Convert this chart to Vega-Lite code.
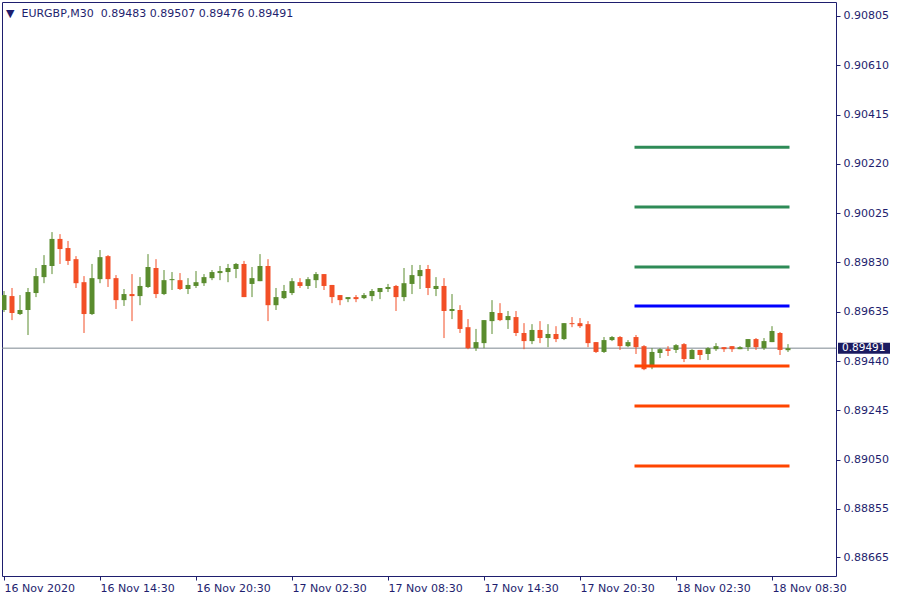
{
  "$schema": "https://vega.github.io/schema/vega-lite/v6.json",
  "width": 834,
  "height": 574,
  "autosize": "none",
  "padding": {"left": 2, "top": 2, "right": 64, "bottom": 24},
  "background": "white",
  "title": {
    "text": "▼\u00a0\u00a0EURGBP,M30\u00a0\u00a00.89483 0.89507 0.89476 0.89491",
    "anchor": "start",
    "frame": "group",
    "orient": "top",
    "baseline": "alphabetic",
    "offset": -15,
    "dx": 4,
    "dy": 11,
    "font": "DejaVu Sans",
    "fontSize": 11,
    "fontWeight": "normal",
    "color": "#1e1e6e"
  },
  "config": {
    "view": {"stroke": "#1e1e6e", "strokeWidth": 1},
    "axis": {
      "grid": false,
      "domain": false,
      "labelFont": "DejaVu Sans",
      "labelFontSize": 11,
      "labelColor": "#1e1e6e",
      "tickColor": "#1e1e6e",
      "tickSize": 4,
      "labelOverlap": false,
      "labelBound": false,
      "labelFlush": false
    }
  },
  "datasets": {
    "candles": [
      {"t": "2020-11-16T08:30", "open": 0.89642, "high": 0.89717, "low": 0.89634, "close": 0.89701},
      {"t": "2020-11-16T09:00", "open": 0.89697, "high": 0.89729, "low": 0.89602, "close": 0.89630},
      {"t": "2020-11-16T09:30", "open": 0.89626, "high": 0.89701, "low": 0.89622, "close": 0.89642},
      {"t": "2020-11-16T10:00", "open": 0.89642, "high": 0.89729, "low": 0.89543, "close": 0.89713},
      {"t": "2020-11-16T10:30", "open": 0.89709, "high": 0.89808, "low": 0.89693, "close": 0.89776},
      {"t": "2020-11-16T11:00", "open": 0.89772, "high": 0.89859, "low": 0.89748, "close": 0.89820},
      {"t": "2020-11-16T11:30", "open": 0.89816, "high": 0.89950, "low": 0.89784, "close": 0.89923},
      {"t": "2020-11-16T12:00", "open": 0.89923, "high": 0.89942, "low": 0.89824, "close": 0.89883},
      {"t": "2020-11-16T12:30", "open": 0.89887, "high": 0.89915, "low": 0.89820, "close": 0.89836},
      {"t": "2020-11-16T13:00", "open": 0.89843, "high": 0.89855, "low": 0.89729, "close": 0.89748},
      {"t": "2020-11-16T13:30", "open": 0.89752, "high": 0.89776, "low": 0.89551, "close": 0.89626},
      {"t": "2020-11-16T14:00", "open": 0.89626, "high": 0.89824, "low": 0.89622, "close": 0.89768},
      {"t": "2020-11-16T14:30", "open": 0.89764, "high": 0.89879, "low": 0.89748, "close": 0.89851},
      {"t": "2020-11-16T15:00", "open": 0.89855, "high": 0.89859, "low": 0.89733, "close": 0.89764},
      {"t": "2020-11-16T15:30", "open": 0.89768, "high": 0.89780, "low": 0.89646, "close": 0.89681},
      {"t": "2020-11-16T16:00", "open": 0.89681, "high": 0.89725, "low": 0.89658, "close": 0.89705},
      {"t": "2020-11-16T16:30", "open": 0.89705, "high": 0.89784, "low": 0.89598, "close": 0.89697},
      {"t": "2020-11-16T17:00", "open": 0.89697, "high": 0.89772, "low": 0.89661, "close": 0.89737},
      {"t": "2020-11-16T17:30", "open": 0.89733, "high": 0.89863, "low": 0.89729, "close": 0.89812},
      {"t": "2020-11-16T18:00", "open": 0.89808, "high": 0.89843, "low": 0.89689, "close": 0.89705},
      {"t": "2020-11-16T18:30", "open": 0.89705, "high": 0.89800, "low": 0.89701, "close": 0.89760},
      {"t": "2020-11-16T19:00", "open": 0.89760, "high": 0.89792, "low": 0.89721, "close": 0.89764},
      {"t": "2020-11-16T19:30", "open": 0.89760, "high": 0.89788, "low": 0.89721, "close": 0.89725},
      {"t": "2020-11-16T20:00", "open": 0.89725, "high": 0.89768, "low": 0.89705, "close": 0.89741},
      {"t": "2020-11-16T20:30", "open": 0.89737, "high": 0.89796, "low": 0.89729, "close": 0.89752},
      {"t": "2020-11-16T21:00", "open": 0.89748, "high": 0.89784, "low": 0.89737, "close": 0.89772},
      {"t": "2020-11-16T21:30", "open": 0.89768, "high": 0.89800, "low": 0.89760, "close": 0.89792},
      {"t": "2020-11-16T22:00", "open": 0.89788, "high": 0.89816, "low": 0.89760, "close": 0.89796},
      {"t": "2020-11-16T22:30", "open": 0.89792, "high": 0.89824, "low": 0.89752, "close": 0.89808},
      {"t": "2020-11-16T23:00", "open": 0.89804, "high": 0.89828, "low": 0.89768, "close": 0.89824},
      {"t": "2020-11-16T23:30", "open": 0.89824, "high": 0.89836, "low": 0.89693, "close": 0.89693},
      {"t": "2020-11-17T00:00", "open": 0.89745, "high": 0.89812, "low": 0.89693, "close": 0.89768},
      {"t": "2020-11-17T00:30", "open": 0.89756, "high": 0.89863, "low": 0.89756, "close": 0.89816},
      {"t": "2020-11-17T01:00", "open": 0.89816, "high": 0.89843, "low": 0.89598, "close": 0.89661},
      {"t": "2020-11-17T01:30", "open": 0.89661, "high": 0.89729, "low": 0.89642, "close": 0.89693},
      {"t": "2020-11-17T02:00", "open": 0.89689, "high": 0.89741, "low": 0.89685, "close": 0.89717},
      {"t": "2020-11-17T02:30", "open": 0.89709, "high": 0.89768, "low": 0.89701, "close": 0.89756},
      {"t": "2020-11-17T03:00", "open": 0.89752, "high": 0.89768, "low": 0.89729, "close": 0.89737},
      {"t": "2020-11-17T03:30", "open": 0.89737, "high": 0.89772, "low": 0.89725, "close": 0.89764},
      {"t": "2020-11-17T04:00", "open": 0.89760, "high": 0.89792, "low": 0.89729, "close": 0.89784},
      {"t": "2020-11-17T04:30", "open": 0.89784, "high": 0.89784, "low": 0.89721, "close": 0.89737},
      {"t": "2020-11-17T05:00", "open": 0.89741, "high": 0.89741, "low": 0.89669, "close": 0.89693},
      {"t": "2020-11-17T05:30", "open": 0.89701, "high": 0.89701, "low": 0.89661, "close": 0.89681},
      {"t": "2020-11-17T06:00", "open": 0.89685, "high": 0.89693, "low": 0.89673, "close": 0.89693},
      {"t": "2020-11-17T06:30", "open": 0.89693, "high": 0.89701, "low": 0.89673, "close": 0.89685},
      {"t": "2020-11-17T07:00", "open": 0.89689, "high": 0.89709, "low": 0.89685, "close": 0.89701},
      {"t": "2020-11-17T07:30", "open": 0.89697, "high": 0.89725, "low": 0.89677, "close": 0.89717},
      {"t": "2020-11-17T08:00", "open": 0.89713, "high": 0.89729, "low": 0.89685, "close": 0.89729},
      {"t": "2020-11-17T08:30", "open": 0.89725, "high": 0.89745, "low": 0.89713, "close": 0.89733},
      {"t": "2020-11-17T09:00", "open": 0.89737, "high": 0.89741, "low": 0.89638, "close": 0.89693},
      {"t": "2020-11-17T09:30", "open": 0.89693, "high": 0.89808, "low": 0.89677, "close": 0.89748},
      {"t": "2020-11-17T10:00", "open": 0.89745, "high": 0.89820, "low": 0.89705, "close": 0.89780},
      {"t": "2020-11-17T10:30", "open": 0.89776, "high": 0.89820, "low": 0.89725, "close": 0.89800},
      {"t": "2020-11-17T11:00", "open": 0.89804, "high": 0.89820, "low": 0.89701, "close": 0.89729},
      {"t": "2020-11-17T11:30", "open": 0.89725, "high": 0.89772, "low": 0.89697, "close": 0.89737},
      {"t": "2020-11-17T12:00", "open": 0.89737, "high": 0.89768, "low": 0.89531, "close": 0.89638},
      {"t": "2020-11-17T12:30", "open": 0.89638, "high": 0.89705, "low": 0.89606, "close": 0.89646},
      {"t": "2020-11-17T13:00", "open": 0.89642, "high": 0.89661, "low": 0.89551, "close": 0.89567},
      {"t": "2020-11-17T13:30", "open": 0.89574, "high": 0.89606, "low": 0.89487, "close": 0.89491},
      {"t": "2020-11-17T14:00", "open": 0.89491, "high": 0.89567, "low": 0.89480, "close": 0.89515},
      {"t": "2020-11-17T14:30", "open": 0.89511, "high": 0.89602, "low": 0.89491, "close": 0.89602},
      {"t": "2020-11-17T15:00", "open": 0.89598, "high": 0.89681, "low": 0.89547, "close": 0.89634},
      {"t": "2020-11-17T15:30", "open": 0.89630, "high": 0.89669, "low": 0.89598, "close": 0.89602},
      {"t": "2020-11-17T16:00", "open": 0.89602, "high": 0.89638, "low": 0.89567, "close": 0.89618},
      {"t": "2020-11-17T16:30", "open": 0.89614, "high": 0.89638, "low": 0.89539, "close": 0.89551},
      {"t": "2020-11-17T17:00", "open": 0.89551, "high": 0.89590, "low": 0.89487, "close": 0.89519},
      {"t": "2020-11-17T17:30", "open": 0.89519, "high": 0.89586, "low": 0.89507, "close": 0.89563},
      {"t": "2020-11-17T18:00", "open": 0.89563, "high": 0.89598, "low": 0.89511, "close": 0.89531},
      {"t": "2020-11-17T18:30", "open": 0.89531, "high": 0.89586, "low": 0.89495, "close": 0.89547},
      {"t": "2020-11-17T19:00", "open": 0.89547, "high": 0.89578, "low": 0.89515, "close": 0.89527},
      {"t": "2020-11-17T19:30", "open": 0.89527, "high": 0.89590, "low": 0.89523, "close": 0.89590},
      {"t": "2020-11-17T20:00", "open": 0.89590, "high": 0.89614, "low": 0.89574, "close": 0.89586},
      {"t": "2020-11-17T20:30", "open": 0.89590, "high": 0.89610, "low": 0.89571, "close": 0.89578},
      {"t": "2020-11-17T21:00", "open": 0.89586, "high": 0.89598, "low": 0.89495, "close": 0.89511},
      {"t": "2020-11-17T21:30", "open": 0.89515, "high": 0.89515, "low": 0.89472, "close": 0.89476},
      {"t": "2020-11-17T22:00", "open": 0.89476, "high": 0.89535, "low": 0.89472, "close": 0.89523},
      {"t": "2020-11-17T22:30", "open": 0.89523, "high": 0.89539, "low": 0.89519, "close": 0.89535},
      {"t": "2020-11-17T23:00", "open": 0.89535, "high": 0.89539, "low": 0.89484, "close": 0.89499},
      {"t": "2020-11-17T23:30", "open": 0.89499, "high": 0.89523, "low": 0.89495, "close": 0.89515},
      {"t": "2020-11-18T00:00", "open": 0.89535, "high": 0.89543, "low": 0.89468, "close": 0.89495},
      {"t": "2020-11-18T00:30", "open": 0.89499, "high": 0.89503, "low": 0.89404, "close": 0.89408},
      {"t": "2020-11-18T01:00", "open": 0.89416, "high": 0.89491, "low": 0.89408, "close": 0.89476},
      {"t": "2020-11-18T01:30", "open": 0.89472, "high": 0.89491, "low": 0.89452, "close": 0.89487},
      {"t": "2020-11-18T02:00", "open": 0.89487, "high": 0.89499, "low": 0.89460, "close": 0.89480},
      {"t": "2020-11-18T02:30", "open": 0.89484, "high": 0.89507, "low": 0.89472, "close": 0.89503},
      {"t": "2020-11-18T03:00", "open": 0.89507, "high": 0.89511, "low": 0.89436, "close": 0.89448},
      {"t": "2020-11-18T03:30", "open": 0.89448, "high": 0.89487, "low": 0.89448, "close": 0.89484},
      {"t": "2020-11-18T04:00", "open": 0.89484, "high": 0.89484, "low": 0.89444, "close": 0.89464},
      {"t": "2020-11-18T04:30", "open": 0.89468, "high": 0.89495, "low": 0.89444, "close": 0.89491},
      {"t": "2020-11-18T05:00", "open": 0.89487, "high": 0.89511, "low": 0.89480, "close": 0.89499},
      {"t": "2020-11-18T05:30", "open": 0.89495, "high": 0.89495, "low": 0.89476, "close": 0.89487},
      {"t": "2020-11-18T06:00", "open": 0.89499, "high": 0.89499, "low": 0.89476, "close": 0.89487},
      {"t": "2020-11-18T06:30", "open": 0.89487, "high": 0.89499, "low": 0.89487, "close": 0.89495},
      {"t": "2020-11-18T07:00", "open": 0.89495, "high": 0.89527, "low": 0.89480, "close": 0.89527},
      {"t": "2020-11-18T07:30", "open": 0.89527, "high": 0.89531, "low": 0.89484, "close": 0.89495},
      {"t": "2020-11-18T08:00", "open": 0.89491, "high": 0.89531, "low": 0.89484, "close": 0.89519},
      {"t": "2020-11-18T08:30", "open": 0.89515, "high": 0.89578, "low": 0.89515, "close": 0.89559},
      {"t": "2020-11-18T09:00", "open": 0.89551, "high": 0.89555, "low": 0.89464, "close": 0.89484},
      {"t": "2020-11-18T09:30", "open": 0.89483, "high": 0.89507, "low": 0.89476, "close": 0.89491}
    ],
    "levels": [
      {"level": "R3", "price": 0.90286, "start": "2020-11-18T00:00", "end": "2020-11-18T09:30"},
      {"level": "R2", "price": 0.90049, "start": "2020-11-18T00:00", "end": "2020-11-18T09:30"},
      {"level": "R1", "price": 0.89812, "start": "2020-11-18T00:00", "end": "2020-11-18T09:30"},
      {"level": "P", "price": 0.89658, "start": "2020-11-18T00:00", "end": "2020-11-18T09:30"},
      {"level": "S1", "price": 0.89420, "start": "2020-11-18T00:00", "end": "2020-11-18T09:30"},
      {"level": "S2", "price": 0.89262, "start": "2020-11-18T00:00", "end": "2020-11-18T09:30"},
      {"level": "S3", "price": 0.89025, "start": "2020-11-18T00:00", "end": "2020-11-18T09:30"}
    ],
    "last": [{"price": 0.89491}]
  },
  "layer": [
    {
      "data": {"name": "last"},
      "mark": {"type": "rule", "color": "#7d8791", "strokeWidth": 1},
      "encoding": {
        "y": {"field": "price", "type": "quantitative", "title": null,
              "scale": {"domain": [0.88590, 0.90860], "zero": false, "nice": false, "padding": 0}}
      }
    },
    {
      "data": {"name": "candles"},
      "mark": {"type": "rule", "strokeWidth": 1, "clip": true},
      "encoding": {
        "x": {"field": "t", "type": "temporal", "title": null,
              "scale": {"padding": 0, "domain": [
                {"year": 2020, "month": 11, "date": 16, "hours": 8, "minutes": 22, "seconds": 30},
                {"year": 2020, "month": 11, "date": 18, "hours": 12, "minutes": 30}
              ]},
              "axis": {
                "orient": "bottom",
                "values": [
                  {"year": 2020, "month": 11, "date": 16, "hours": 8, "minutes": 30},
                  {"year": 2020, "month": 11, "date": 16, "hours": 14, "minutes": 30},
                  {"year": 2020, "month": 11, "date": 16, "hours": 20, "minutes": 30},
                  {"year": 2020, "month": 11, "date": 17, "hours": 2, "minutes": 30},
                  {"year": 2020, "month": 11, "date": 17, "hours": 8, "minutes": 30},
                  {"year": 2020, "month": 11, "date": 17, "hours": 14, "minutes": 30},
                  {"year": 2020, "month": 11, "date": 17, "hours": 20, "minutes": 30},
                  {"year": 2020, "month": 11, "date": 18, "hours": 2, "minutes": 30},
                  {"year": 2020, "month": 11, "date": 18, "hours": 8, "minutes": 30}
                ],
                "labelExpr": "timeFormat(datum.value, '%d %H:%M') == '16 08:30' ? '16 Nov 2020' : timeFormat(datum.value, '%d %b %H:%M')",
                "labelAlign": "left",
                "labelBaseline": "top",
                "labelPadding": 2,
                "labelAngle": 0
              }},
        "y": {"field": "low", "type": "quantitative", "title": null,
              "scale": {"domain": [0.88590, 0.90860], "zero": false, "nice": false, "padding": 0},
              "axis": {
                "orient": "right",
                "values": [0.90805, 0.90610, 0.90415, 0.90220, 0.90025, 0.89830, 0.89635, 0.89440, 0.89245, 0.89050, 0.88855, 0.88665],
                "format": ".5f",
                "labelPadding": 3,
                "labelBaseline": "middle"
              }},
        "y2": {"field": "high"},
        "color": {"condition": {"test": "datum.open < datum.close", "value": "#5a8c2e"}, "value": "#f24f26"}
      }
    },
    {
      "data": {"name": "candles"},
      "mark": {"type": "bar", "width": 5, "clip": true},
      "encoding": {
        "x": {"field": "t", "type": "temporal", "title": null},
        "y": {"field": "open", "type": "quantitative", "title": null},
        "y2": {"field": "close"},
        "color": {"condition": {"test": "datum.open < datum.close", "value": "#5a8c2e"}, "value": "#f24f26"}
      }
    },
    {
      "data": {"name": "levels"},
      "mark": {"type": "rule", "strokeWidth": 3, "strokeCap": "square"},
      "encoding": {
        "x": {"field": "start", "type": "temporal", "title": null},
        "x2": {"field": "end"},
        "y": {"field": "price", "type": "quantitative", "title": null},
        "color": {"field": "level", "type": "nominal", "legend": null,
                  "scale": {"domain": ["R3", "R2", "R1", "P", "S1", "S2", "S3"],
                            "range": ["#2e8b57", "#2e8b57", "#2e8b57", "#0000ff", "#ff4500", "#ff4500", "#ff4500"]}}
      }
    },
    {
      "data": {"name": "last"},
      "mark": {"type": "tick", "orient": "horizontal", "size": 52, "thickness": 11, "color": "#1b1b60", "opacity": 1},
      "encoding": {
        "x": {"value": {"expr": "width + 28"}},
        "y": {"field": "price", "type": "quantitative", "title": null}
      }
    },
    {
      "data": {"name": "last"},
      "mark": {"type": "text", "align": "left", "baseline": "middle", "font": "DejaVu Sans", "fontSize": 10.5, "color": "white"},
      "encoding": {
        "x": {"value": {"expr": "width + 6"}},
        "y": {"field": "price", "type": "quantitative", "title": null},
        "text": {"field": "price", "type": "quantitative", "format": ".5f"}
      }
    }
  ]
}
